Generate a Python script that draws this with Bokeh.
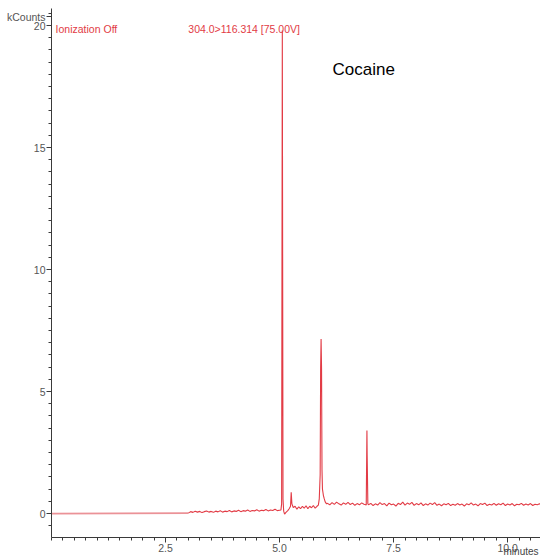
from bokeh.plotting import figure
from bokeh.models import Range1d, FixedTicker, Label, PrintfTickFormatter
from bokeh.embed import file_html
from bokeh.resources import INLINE

# Retention time (minutes) and signal (kCounts)
time_min = [
    0.00, 3.00,
    3.05, 3.10, 3.15, 3.20, 3.25, 3.30, 3.35, 3.40, 3.45, 3.50,
    3.55, 3.60, 3.65, 3.70, 3.75, 3.80, 3.85, 3.90, 3.95, 4.00,
    4.05, 4.10, 4.15, 4.20, 4.25, 4.30, 4.35, 4.40, 4.45, 4.50,
    4.55, 4.60, 4.65, 4.70, 4.75, 4.80, 4.85, 4.90, 4.95, 5.00,
    5.03, 5.045, 5.055, 5.06, 5.065, 5.075, 5.09, 5.11, 5.14, 5.18,
    5.21, 5.24, 5.255, 5.27, 5.30, 5.34, 5.38, 5.42, 5.46, 5.50,
    5.54, 5.58, 5.62, 5.66, 5.70, 5.74, 5.78, 5.82, 5.85, 5.87,
    5.89, 5.90, 5.91, 5.92, 5.93, 5.94, 5.96, 5.98, 6.00, 6.03,
    6.05, 6.10, 6.15, 6.20, 6.25, 6.30, 6.35, 6.40, 6.45, 6.50,
    6.55, 6.60, 6.65, 6.70, 6.75, 6.80, 6.85, 6.90, 6.91, 6.915,
    6.92, 6.935, 6.95, 7.00, 7.05, 7.10, 7.15, 7.20, 7.25, 7.30,
    7.35, 7.40, 7.45, 7.50, 7.55, 7.60, 7.65, 7.70, 7.75, 7.80,
    7.85, 7.90, 7.95, 8.00, 8.05, 8.10, 8.15, 8.20, 8.25, 8.30,
    8.35, 8.40, 8.45, 8.50, 8.55, 8.60, 8.65, 8.70, 8.75, 8.80,
    8.85, 8.90, 8.95, 9.00, 9.05, 9.10, 9.15, 9.20, 9.25, 9.30,
    9.35, 9.40, 9.45, 9.50, 9.55, 9.60, 9.65, 9.70, 9.75, 9.80,
    9.85, 9.90, 9.95, 10.00, 10.05, 10.10, 10.15, 10.20, 10.25, 10.30,
    10.35, 10.40, 10.45, 10.50, 10.55, 10.60, 10.65, 10.70, 10.75,
]
kcounts = [
    0.00, 0.02,
    0.08, 0.05, 0.10, 0.06, 0.09, 0.04, 0.08, 0.11, 0.06, 0.09,
    0.05, 0.10, 0.07, 0.12, 0.06, 0.10, 0.08, 0.13, 0.07, 0.11,
    0.09, 0.14, 0.08, 0.12, 0.10, 0.15, 0.09, 0.13, 0.11, 0.16,
    0.10, 0.14, 0.12, 0.17, 0.11, 0.15, 0.13, 0.18, 0.12, 0.14,
    0.15, 0.40, 13.30, 19.80, 13.30, 0.60, 0.10, -0.02, 0.05, 0.12,
    0.20, 0.30, 0.87, 0.40, 0.25, 0.30, 0.18, 0.28, 0.20, 0.30,
    0.22, 0.32, 0.20, 0.30, 0.24, 0.33, 0.22, 0.30, 0.35, 0.60,
    1.60, 5.96, 7.15, 5.96, 1.80, 1.00, 0.75, 0.60, 0.48, 0.40,
    0.42, 0.36, 0.45, 0.38, 0.47, 0.40, 0.35, 0.44, 0.38, 0.46,
    0.37, 0.43, 0.34, 0.41, 0.36, 0.44, 0.38, 0.35, 2.40, 3.40,
    2.40, 0.40, 0.36, 0.42, 0.33, 0.40, 0.35, 0.45, 0.37, 0.41,
    0.32, 0.43, 0.36, 0.39, 0.31, 0.42, 0.37, 0.47, 0.35, 0.43,
    0.38, 0.46, 0.34, 0.41, 0.36, 0.44, 0.33, 0.40, 0.35, 0.43,
    0.37, 0.45, 0.34, 0.39, 0.32, 0.40, 0.36, 0.42, 0.33, 0.38,
    0.34, 0.41, 0.35, 0.39, 0.31, 0.40, 0.36, 0.44, 0.35, 0.39,
    0.32, 0.41, 0.37, 0.43, 0.33, 0.38, 0.35, 0.42, 0.34, 0.40,
    0.36, 0.43, 0.33, 0.39, 0.35, 0.41, 0.32, 0.38, 0.36, 0.42,
    0.34, 0.39, 0.35, 0.41, 0.33, 0.38, 0.36, 0.40, 0.35,
]

x_major = [2.5, 5.0, 7.5, 10.0]
y_major = [0, 5, 10, 15, 20]
y_unit_pos = 20.37
y_unit_label = "kCounts"
x_unit_label = "minutes"
compound = "Cocaine"
status_text = "Ionization Off"
transition_text = "304.0>116.314 [75.00V]"

trace_color = "#e23b45"
flat_color = "#eb9297"
axis_color = "#3a3a3a"
label_color = "#555555"
font = "Liberation Sans"

p = figure(width=540, height=559, output_backend="svg", toolbar_location=None,
           x_range=Range1d(0, 10.72), y_range=Range1d(-0.98, 20.70),
           min_border_left=51, min_border_right=0, min_border_top=8,
           min_border_bottom=22)
p.outline_line_color = None
p.xgrid.visible = False
p.ygrid.visible = False
p.background_fill_color = "white"

# idle baseline before acquisition starts (drawn lighter, as in the original)
p.line(time_min[:2], kcounts[:2], line_color=flat_color, line_width=1.8)
p.line(time_min[1:], kcounts[1:], line_color=trace_color, line_width=1.1)

xa = p.xaxis[0]
xa.ticker = FixedTicker(ticks=x_major, minor_ticks=[i * 0.25 for i in range(0, 44)])
xa.formatter = PrintfTickFormatter(format="%.1f")
ya = p.yaxis[0]
ya.ticker = FixedTicker(ticks=y_major + [y_unit_pos],
                        minor_ticks=[i * 0.5 for i in range(-2, 42)])
ya.formatter = PrintfTickFormatter(format="%d")
ya.major_label_overrides = {y_unit_pos: y_unit_label}
for ax in (xa, ya):
    ax.axis_line_color = axis_color
    ax.major_tick_line_color = axis_color
    ax.minor_tick_line_color = axis_color
    ax.major_tick_in = 0
    ax.major_tick_out = 5
    ax.minor_tick_in = 0
    ax.minor_tick_out = 3
    ax.major_label_text_font = font
    ax.major_label_text_font_size = "10.5px"
    ax.major_label_text_color = label_color
    ax.major_label_standoff = 1

# time-axis unit, tucked under the right end of the axis
# (label is centred on the axis end, so trailing no-break spaces pull it left)
xa.axis_label = x_unit_label + "\u00a0" * 14
xa.axis_label_align = "end"
xa.axis_label_standoff = -9
xa.axis_label_text_font = font
xa.axis_label_text_font_size = "10px"
xa.axis_label_text_font_style = "normal"
xa.axis_label_text_color = "#444444"

p.add_layout(Label(x=0.09, y=19.85, text=status_text, text_align="left",
                   text_baseline="middle", text_font=font, text_font_size="10.5px",
                   text_color=trace_color))
p.add_layout(Label(x=3.0, y=19.85, text=transition_text, text_align="left",
                   text_baseline="middle", text_font=font, text_font_size="10.5px",
                   text_color=trace_color))
p.add_layout(Label(x=6.16, y=18.22, text=compound, text_align="left",
                   text_baseline="middle", text_font=font,
                   text_font_size="17px", text_color="black"))

open("out.html", "w").write(file_html(p, INLINE))
